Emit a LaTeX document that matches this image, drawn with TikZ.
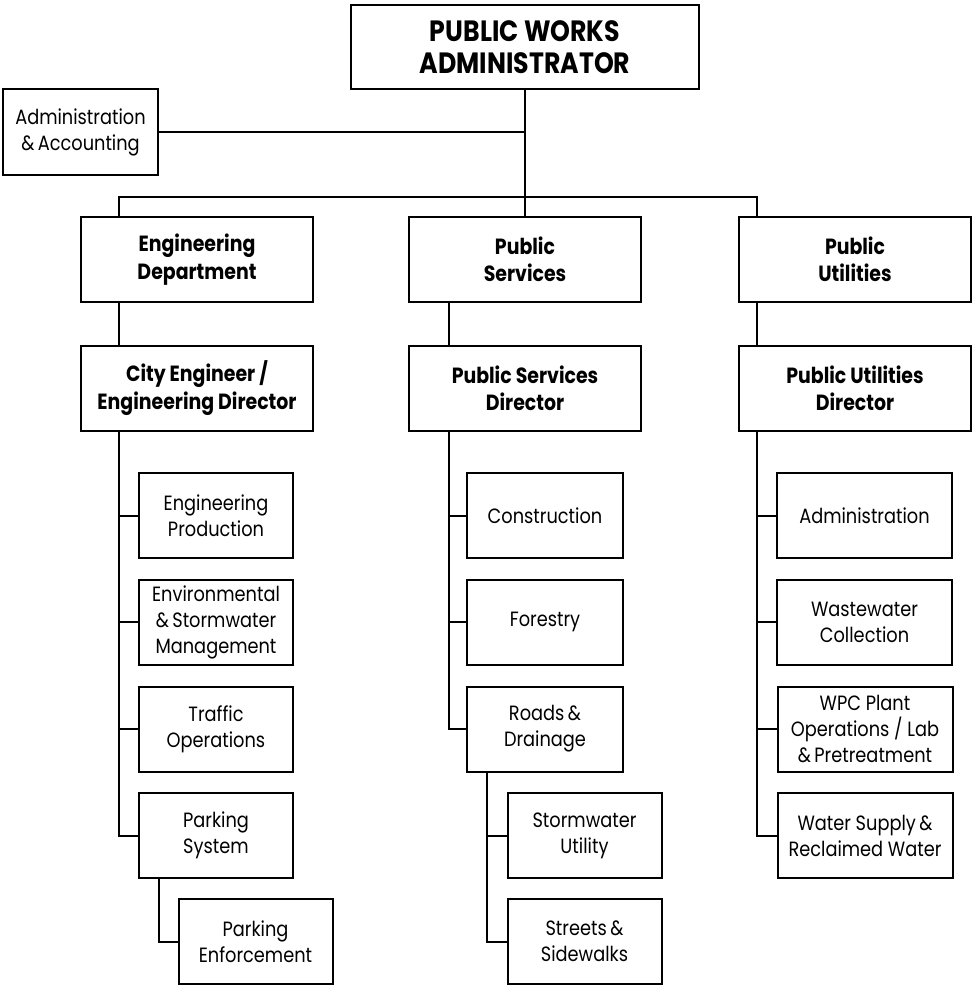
\documentclass[tikz,border=0pt]{standalone}
\usepackage{fontspec}
\setmainfont{Poppins}[FakeStretch=0.86]
\begin{document}
\begin{tikzpicture}[x=0.75pt,y=-0.75pt,
  every node/.style={draw=black,line width=1.5pt,rectangle,align=center,inner sep=0pt},
  regtext/.style={font=\fontsize{15.5}{19.5}\selectfont},
  boldtext/.style={font=\fontsize{16.5}{20.5}\selectfont\bfseries},
  toptext/.style={font=\fontsize{22}{24}\selectfont\bfseries},
  lvlbox/.style={boldtext,minimum width=174pt,minimum height=63.75pt},
  engsub/.style={regtext,minimum width=115.5pt,minimum height=63.75pt},
  pssub/.style={regtext,minimum width=117pt,minimum height=63.75pt},
  pusub/.style={regtext,minimum width=131.25pt,minimum height=63.75pt},
  conn/.style={line width=1.5pt,line cap=rect}]
\useasboundingbox (0,0) rectangle (972,988);
% top
\node[toptext,minimum width=261pt,minimum height=63pt] (top) at (525,47) {PUBLIC WORKS\\ADMINISTRATOR};
\node[regtext,minimum width=116.25pt,minimum height=64.5pt] (acct) at (80.5,132) {Administration\\\&\,Accounting};
% level 1
\node[lvlbox] (eng) at (197,259.5) {Engineering\\Department};
\node[lvlbox] (ps) at (525,259.5) {Public\\Services};
\node[lvlbox] (pu) at (855,259.5) {Public\\Utilities};
% level 2
\node[lvlbox] (engdir) at (197,388) {City Engineer /\\Engineering Director};
\node[lvlbox] (psdir) at (525,388) {Public Services\\Director};
\node[lvlbox] (pudir) at (855,388) {Public Utilities\\Director};
% engineering subs
\node[engsub] (ep) at (216,515.5) {Engineering\\Production};
\node[engsub] (env) at (216,622) {Environmental\\\&\,Stormwater\\Management};
\node[engsub] (tr) at (216,729) {Traffic\\Operations};
\node[engsub] (psys) at (216,835.5) {Parking\\System};
\node[engsub] (penf) at (255.5,941.5) {Parking\\Enforcement};
% public services subs
\node[pssub] (con) at (545,515.5) {Construction};
\node[pssub] (for) at (545,622) {Forestry};
\node[pssub] (rd) at (545,729) {Roads\,\&\\Drainage};
\node[engsub] (sw) at (584.5,835.5) {Stormwater\\Utility};
\node[engsub] (st) at (584.5,941.5) {Streets\,\&\\Sidewalks};
% public utilities subs
\node[pusub] (adm) at (864.5,515.5) {Administration};
\node[pusub] (ww) at (864.5,622) {Wastewater\\Collection};
\node[pusub] (wpc) at (865,729) {WPC Plant\\Operations / Lab\\\&\,Pretreatment};
\node[pusub] (wsup) at (865,835.5) {Water Supply\,\&\\Reclaimed Water};
% coordinates
\coordinate (busL) at (119,197);
\coordinate (busR) at (757,197);
\coordinate (psx) at (449,0);
\coordinate (rdx) at (487,0);
\coordinate (pkx) at (159,0);
% connectors
\draw[conn] (top.south) -- (ps.north);
\draw[conn] (acct.east) -- (acct.east -| top.south);
\draw[conn] (eng.north -| busL) -- (busL) -- (busR) -- (pu.north -| busR);
\draw[conn] (eng.south -| busL) -- (engdir.north -| busL);
\draw[conn] (ps.south -| psx) -- (psdir.north -| psx);
\draw[conn] (pu.south -| busR) -- (pudir.north -| busR);
% engineering column
\draw[conn] (engdir.south -| busL) |- (psys.west);
\draw[conn] (ep.west) -- (ep.west -| busL);
\draw[conn] (env.west) -- (env.west -| busL);
\draw[conn] (tr.west) -- (tr.west -| busL);
\draw[conn] (psys.south -| pkx) |- (penf.west);
% public services column
\draw[conn] (psdir.south -| psx) |- (rd.west);
\draw[conn] (con.west) -- (con.west -| psx);
\draw[conn] (for.west) -- (for.west -| psx);
\draw[conn] (rd.south -| rdx) |- (st.west);
\draw[conn] (sw.west) -- (sw.west -| rdx);
% public utilities column
\draw[conn] (pudir.south -| busR) |- (wsup.west);
\draw[conn] (adm.west) -- (adm.west -| busR);
\draw[conn] (ww.west) -- (ww.west -| busR);
\draw[conn] (wpc.west) -- (wpc.west -| busR);
\end{tikzpicture}
\end{document}
